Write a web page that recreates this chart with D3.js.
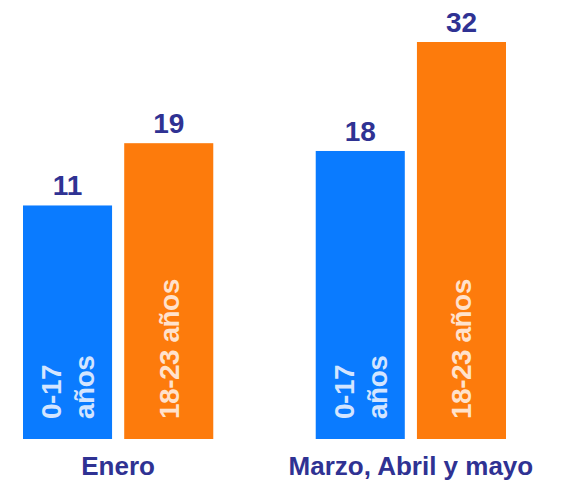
<!DOCTYPE html>
<html>
<head>
<meta charset="utf-8">
<script src="https://cdn.jsdelivr.net/npm/d3@7"></script>
<style>
  body { margin: 0; background: #fff; }
  text { font-family: "Liberation Sans", Arial, sans-serif; font-weight: bold; }
</style>
</head>
<body>
<script>
var w = 567;
var h = 480;

// data
var periods = ["Enero", "Marzo, Abril y mayo"];
var series = ["0-17 años", "18-23 años"];
var seriesLines = [["0-17", "años"], ["18-23 años"]];
var young = [11, 18];
var older = [19, 32];

var colors = ["#0a7bff", "#fd7b0c"];
var labelColors = ["#d3e5ff", "#ffe2cc"];
var navy = "#2f3293";

var rows = [];
for (var i = 0; i < periods.length; i++) {
	rows.push({period: periods[i], values: [young[i], older[i]]});
}

var svg = d3.select("body")
	.append("svg")
	.attr("width", w)
	.attr("height", h);

var bottom = 439;

var x0 = d3.scaleBand()
	.domain(periods)
	.range([23, 506])
	.paddingInner(0.35)
	.paddingOuter(0);

var x1 = d3.scaleBand()
	.domain(series)
	.range([0, x0.bandwidth()])
	.paddingInner(0.12)
	.paddingOuter(0);

// the picture does not start bars from zero
var y = d3.scaleLinear()
	.domain([-19, 32])
	.range([bottom, 42]);

var groups = svg.selectAll("g.group")
	.data(rows)
	.enter()
	.append("g")
	.attr("class", "group")
	.attr("transform", function(d){ return "translate(" + x0(d.period) + ",0)"; });

var bars = groups.selectAll("g.bar")
	.data(function(d){
		return d.values.map(function(v, j){ return {key: series[j], value: v, idx: j}; });
	})
	.enter()
	.append("g")
	.attr("class", "bar");

bars.append("rect")
	.attr("x", function(d){ return x1(d.key); })
	.attr("y", function(d){ return y(d.value); })
	.attr("width", x1.bandwidth())
	.attr("height", function(d){ return bottom - y(d.value); })
	.attr("fill", function(d){ return colors[d.idx]; });

// value labels above bars
bars.append("text")
	.text(function(d){ return d.value; })
	.attr("x", function(d){ return x1(d.key) + x1.bandwidth() / 2; })
	.attr("y", function(d){ return y(d.value) - 10; })
	.attr("text-anchor", "middle")
	.attr("font-size", 28)
	.attr("fill", navy);

// rotated series labels inside bars
bars.each(function(d){
	var lines = seriesLines[d.idx];
	var cx = x1(d.key) + x1.bandwidth() / 2;
	var t = d3.select(this).append("text")
		.attr("transform", "translate(" + cx + "," + (bottom - 20) + ") rotate(-90)")
		.attr("font-size", 28)
		.attr("letter-spacing", -0.5)
		.attr("fill", labelColors[d.idx]);
	var first = 10 - (lines.length - 1) * 33 / 2;
	lines.forEach(function(line, k){
		t.append("tspan")
			.attr("x", 0)
			.attr("y", first + k * 33)
			.text(line);
	});
});

// period labels
svg.selectAll("text.period")
	.data(periods)
	.enter()
	.append("text")
	.attr("class", "period")
	.text(function(d){ return d; })
	.attr("x", function(d){ return x0(d) + x0.bandwidth() / 2; })
	.attr("y", 475)
	.attr("text-anchor", "middle")
	.attr("font-size", 26)
	.attr("fill", navy);
</script>
</body>
</html>
